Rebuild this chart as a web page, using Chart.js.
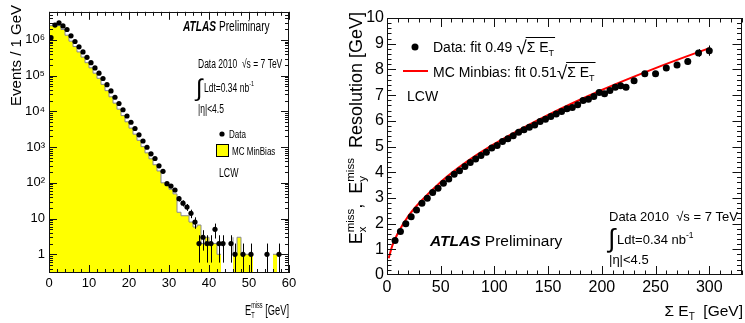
<!DOCTYPE html>
<html>
<head>
<meta charset="utf-8">
<script src="https://cdn.jsdelivr.net/npm/chart.js@4.4.1/dist/chart.umd.min.js"></script>
<style>
  body { margin: 0; background: #fff; }
  #left { position: absolute; left: 0; top: 0; }
  #right { position: absolute; left: 340px; top: 0; }
</style>
</head>
<body>
<canvas id="left" width="300" height="323"></canvas>
<canvas id="right" width="405" height="323"></canvas>
<script>
// ---- left panel: E_T^miss spectrum, 1 GeV bins ----
var binEdges = [0,1,2,3,4,5,6,7,8,9,10,11,12,13,14,15,16,17,18,19,20,21,22,23,24,25,26,27,28,29,
                30,31,32,33,34,35,36,37,38,39,40,41,42,43,44,45,46,47,48,49,50,51,52,53,54,55,56,57,58,59,60];
var mcCounts = [1200000,2500000,2900000,2500000,1950000,1350000,920000,650000,460000,330000,
                230000,165000,117000,84000,57000,38000,25500,17000,11500,7600,
                5100,3400,2300,1550,1030,690,470,320,215,100,
                85,66,49,15,12,12,8,5.8,6.6,2,
                3,2,2,1,0,0,3,1,3,1,
                1,1,0,0,0,0,1,1,0,0];
var dataCenters = [0.5,1.5,2.5,3.5,4.5,5.5,6.5,7.5,8.5,9.5,10.5,11.5,12.5,13.5,14.5,15.5,16.5,17.5,18.5,19.5,
                   20.5,21.5,22.5,23.5,24.5,25.5,26.5,27.5,28.5,29.5,30.5,31.5,32.5,33.5,34.5,35.5,36.5,37.5,38.5,39.5,
                   40.5,41.5,42.5,43.5,45.5,46.5,48.5,50.5,54.5,57.5];
var dataCounts = [1150000,2600000,3000000,2450000,1950000,1300000,900000,640000,460000,325000,
                  230000,164000,117000,83000,55600,37200,24800,16600,11100,7400,
                  4950,3310,2210,1480,990,650,480,300,210,95,
                  81,63,36,27,21,14,8,2,3,2,
                  2,5,2,2,2,1,1,1,1,1];
var leftXTicks = [0,10,20,30,40,50,60];
var leftYTicks = [1,10,100,1000,10000,100000,1000000];
var leftYLabels = ['1','10','10\u00b2','10\u00b3','10\u2074','10\u2075','10\u2076'];

// ---- right panel: resolution vs sum E_T ----
var sumEt = [7.5,12.5,17.5,22.5,27.5,32.5,37.5,42.5,47.5,52.5,57.5,62.5,67.5,72.5,77.5,82.5,87.5,92.5,97.5,102.5,
             107.5,112.5,117.5,122.5,127.5,132.5,137.5,142.5,147.5,152.5,157.5,162.5,167.5,172.5,177.5,182.5,187.5,192.5,197.5,202.5,
             207.5,212.5,217.5,222.5,230,240,250,260,270,280,290,300];
var resolution = [1.34,1.69,1.99,2.27,2.53,2.79,2.99,3.21,3.38,3.57,3.74,3.92,4.06,4.22,4.38,4.51,4.65,4.78,4.94,5.04,
                  5.19,5.30,5.42,5.55,5.65,5.75,5.84,5.97,6.06,6.17,6.26,6.36,6.47,6.52,6.62,6.79,6.84,6.95,7.10,7.05,
                  7.18,7.31,7.36,7.31,7.56,7.83,7.83,8.05,8.17,8.31,8.64,8.73];
var resErr = [0.02,0.02,0.02,0.02,0.02,0.02,0.02,0.02,0.02,0.02,0.02,0.02,0.02,0.02,0.02,0.02,0.02,0.02,0.02,0.02,
              0.02,0.02,0.03,0.03,0.03,0.03,0.03,0.03,0.03,0.03,0.03,0.03,0.03,0.03,0.04,0.04,0.04,0.04,0.04,0.04,
              0.05,0.05,0.05,0.05,0.05,0.06,0.07,0.08,0.1,0.12,0.15,0.2];
var mcFitX = [1.6,5,10,20,30,50,75,100,150,200,250,300];
var mcFitY = [0.65,1.15,1.62,2.3,2.8,3.62,4.43,5.1,6.23,7.2,8.05,8.83];
var rightXTicks = [0,50,100,150,200,250,300];
var rightYTicks = [0,1,2,3,4,5,6,7,8,9,10];

var FONT = '"Liberation Sans", Arial, Helvetica, sans-serif';
Chart.defaults.font.family = FONT;
Chart.defaults.color = '#000';

// parts: [text, size, style, dy, noAdvance]
function partsWidth(ctx, parts) {
  var w = 0;
  parts.forEach(function(p) {
    ctx.font = (p[2] || '') + ' ' + p[1] + 'px ' + FONT;
    if (!p[4]) w += ctx.measureText(p[0]).width;
  });
  return w;
}
function txt(ctx, parts, x, y, sx) {
  ctx.save();
  ctx.translate(x, y);
  ctx.scale(sx || 1, 1);
  ctx.fillStyle = '#000';
  ctx.textAlign = 'left';
  ctx.textBaseline = 'alphabetic';
  var cx = 0;
  parts.forEach(function(p) {
    ctx.font = (p[2] || '') + ' ' + p[1] + 'px ' + FONT;
    ctx.fillText(p[0], cx, p[3] || 0);
    if (!p[4]) cx += ctx.measureText(p[0]).width;
  });
  ctx.restore();
  return cx * (sx || 1);
}

// ROOT style frame with inward ticks on all four sides
function drawFrame(chart, t) {
  var ctx = chart.ctx, a = chart.chartArea, xs = chart.scales.x, ys = chart.scales.y;
  ctx.save();
  ctx.strokeStyle = '#111';
  ctx.lineWidth = 1;
  ctx.strokeRect(Math.round(a.left) + 0.5, Math.round(a.top) + 0.5, Math.round(a.right - a.left) - 1, Math.round(a.bottom - a.top) - 1);
  ctx.beginPath();
  function xt(vals, len) {
    vals.forEach(function(v) {
      var px = Math.round(xs.getPixelForValue(v)) + 0.5;
      ctx.moveTo(px, a.bottom); ctx.lineTo(px, a.bottom - len);
      ctx.moveTo(px, a.top); ctx.lineTo(px, a.top + len);
    });
  }
  function yt(vals, len) {
    vals.forEach(function(v) {
      var py = Math.round(ys.getPixelForValue(v)) + 0.5;
      if (py < a.top || py > a.bottom) return;
      ctx.moveTo(a.left, py); ctx.lineTo(a.left + len, py);
      ctx.moveTo(a.right, py); ctx.lineTo(a.right - len, py);
    });
  }
  xt(t.xMajor, t.majLen); xt(t.xMinor, t.minLen);
  yt(t.yMajor, t.majLen); yt(t.yMinor, t.minLen);
  ctx.stroke();
  ctx.restore();
}

function drawErrors(chart) {
  var ctx = chart.ctx, a = chart.chartArea, ys = chart.scales.y;
  ctx.save();
  ctx.beginPath();
  ctx.rect(a.left, a.top, a.right - a.left, a.bottom - a.top);
  ctx.clip();
  ctx.strokeStyle = '#000';
  ctx.lineWidth = 1;
  ctx.beginPath();
  chart.data.datasets.forEach(function(ds, i) {
    if (!ds.errors) return;
    var meta = chart.getDatasetMeta(i);
    meta.data.forEach(function(pt, j) {
      var v = ds.data[j].y, e = ds.errors[j];
      var lo = v - e;
      var pLo = lo > 0 ? ys.getPixelForValue(lo) : a.bottom;
      var pHi = ys.getPixelForValue(v + e);
      var px = Math.round(pt.x) + 0.5;
      ctx.moveTo(px, pLo); ctx.lineTo(px, pHi);
    });
  });
  ctx.stroke();
  ctx.restore();
}

// ---------------- left chart ----------------
var mcPoints = binEdges.map(function(x, i) {
  return { x: x, y: i < mcCounts.length ? mcCounts[i] : mcCounts[mcCounts.length - 1] };
});
var dataPoints = dataCenters.map(function(x, i) { return { x: x, y: dataCounts[i] }; });
var dataErrs = dataCounts.map(function(n) { return Math.sqrt(n); });

var leftMinor = { x: [], y: [] };
for (var gx = 2; gx < 60; gx += 2) if (gx % 10) leftMinor.x.push(gx);
for (var dec = 0.1; dec < 1e7; dec *= 10) {
  for (var k = 2; k <= 9; k++) leftMinor.y.push(Math.round(k * dec * 10) / 10);
}

var leftDecor = {
  id: 'leftDecor',
  afterDatasetsDraw: function(chart) {
    drawErrors(chart);
  },
  afterDraw: function(chart) {
    var ctx = chart.ctx;
    drawFrame(chart, { xMajor: leftXTicks, xMinor: leftMinor.x, yMajor: leftYTicks, yMinor: leftMinor.y, majLen: 8, minLen: 4 });
    var sx = 0.68;
    txt(ctx, [['ATLAS', 14.5, 'italic bold'], [' Preliminary', 14.5]], 183, 31, 0.7);
    txt(ctx, [['Data 2010  \u221as = 7 TeV', 12.5]], 198, 68, sx);
    txt(ctx, [['\u222b', 24]], 196, 96, 1);
    txt(ctx, [['Ldt=0.34 nb', 12.5], ['-1', 8, '', -6]], 204, 92, sx);
    txt(ctx, [['|\u03b7|<4.5', 12.5]], 198, 113, sx);
    // legend
    ctx.save();
    ctx.fillStyle = '#000';
    ctx.beginPath(); ctx.arc(222, 134, 2.6, 0, Math.PI * 2); ctx.fill();
    ctx.fillStyle = '#ffff00';
    ctx.fillRect(216, 144, 13, 13);
    ctx.strokeStyle = '#000';
    ctx.strokeRect(216.5, 144.5, 12, 12);
    ctx.restore();
    txt(ctx, [['Data', 11.5]], 229, 138, 0.7);
    txt(ctx, [['MC MinBias', 11.5]], 232, 155, 0.7);
    txt(ctx, [['LCW', 12.5]], 219, 177, 0.7);
    // axis titles
    var xt = [['E', 15], ['T', 9, '', 3, true], ['miss', 9, '', -7], [' [GeV]', 15]];
    var w = partsWidth(ctx, xt) * 0.62;
    txt(ctx, xt, 289 - w, 315, 0.62);
    ctx.save();
    ctx.translate(21, 5);
    ctx.rotate(-Math.PI / 2);
    var yt = [['Events / 1 GeV', 15]];
    txt(ctx, yt, -partsWidth(ctx, yt), 0, 1);
    ctx.restore();
  }
};

new Chart(document.getElementById('left'), {
  type: 'scatter',
  data: {
    datasets: [
      { label: 'Data', data: dataPoints, errors: dataErrs, pointRadius: 2.6, pointBackgroundColor: '#000',
        pointBorderWidth: 0, pointHoverRadius: 2.6 },
      { type: 'line', label: 'MC MinBias', data: mcPoints, stepped: 'after', fill: 'start',
        backgroundColor: '#ffff00', borderColor: '#8a8a8a', borderWidth: 1, pointRadius: 0 }
    ]
  },
  options: {
    responsive: false, animation: false, devicePixelRatio: 1,
    layout: { padding: { left: 0, right: 11, top: 6, bottom: 0 } },
    plugins: { legend: { display: false }, tooltip: { enabled: false } },
    scales: {
      x: {
        type: 'linear', min: 0, max: 60,
        afterFit: function(s) { s.height = 50; },
        afterBuildTicks: function(s) { s.ticks = leftXTicks.map(function(v) { return { value: v }; }); },
        grid: { display: false, drawTicks: false }, border: { display: false },
        ticks: { padding: 3, font: { size: 13 }, maxRotation: 0, autoSkip: false }
      },
      y: {
        type: 'logarithmic', min: 0.32, max: 6.1e6,
        afterFit: function(s) { s.width = 49; },
        afterBuildTicks: function(s) { s.ticks = leftYTicks.map(function(v) { return { value: v }; }); },
        grid: { display: false, drawTicks: false }, border: { display: false },
        ticks: { padding: 4, font: { size: 13 }, autoSkip: false,
          callback: function(v) { var i = leftYTicks.indexOf(v); return i >= 0 ? leftYLabels[i] : ''; } }
      }
    }
  },
  plugins: [leftDecor]
});

// ---------------- right chart ----------------
var resPoints = sumEt.map(function(x, i) { return { x: x, y: resolution[i] }; });
var fitPoints = mcFitX.map(function(x, i) { return { x: x, y: mcFitY[i] }; });

var rightMinor = { x: [], y: [] };
for (var rx = 10; rx <= 330; rx += 10) if (rx % 50) rightMinor.x.push(rx);
for (var ry = 1; ry < 50; ry++) if (ry % 5) rightMinor.y.push(ry / 5);

function sqrtSum(ctx, x, y) {
  // draws  sqrt{Sigma E_T}  with an overline, returns end x
  ctx.save();
  ctx.font = '19px ' + FONT;
  ctx.fillStyle = '#000';
  ctx.fillText('\u221a', x, y + 2);
  var w = ctx.measureText('\u221a').width;
  var end = x + w + txt(ctx, [['\u03a3 E', 14], ['T', 9, '', 4]], x + w, y, 1);
  ctx.strokeStyle = '#000';
  ctx.lineWidth = 1;
  ctx.beginPath();
  ctx.moveTo(x + w - 1, y - 14.5); ctx.lineTo(end + 1, y - 14.5);
  ctx.stroke();
  ctx.restore();
  return end;
}

var rightDecor = {
  id: 'rightDecor',
  afterDatasetsDraw: function(chart) {
    drawErrors(chart);
  },
  afterDraw: function(chart) {
    var ctx = chart.ctx;
    drawFrame(chart, { xMajor: rightXTicks, xMinor: rightMinor.x, yMajor: rightYTicks, yMinor: rightMinor.y, majLen: 9, minLen: 4.5 });
    // legend
    ctx.save();
    ctx.fillStyle = '#000';
    ctx.beginPath(); ctx.arc(75, 47, 3.5, 0, Math.PI * 2); ctx.fill();
    ctx.strokeStyle = '#ff0000';
    ctx.lineWidth = 2;
    ctx.beginPath(); ctx.moveTo(63, 71); ctx.lineTo(88, 71); ctx.stroke();
    ctx.restore();
    var x1 = 93 + txt(ctx, [['Data: fit 0.49 ', 14]], 93, 52, 1);
    sqrtSum(ctx, x1, 52);
    var x2 = 93 + txt(ctx, [['MC Minbias: fit 0.51', 14]], 93, 77, 1);
    sqrtSum(ctx, x2, 77);
    txt(ctx, [['LCW', 14]], 67, 101, 1);
    // labels
    txt(ctx, [['ATLAS', 15.5, 'italic bold'], [' Preliminary', 15.5]], 90, 246, 1);
    txt(ctx, [['Data 2010  \u221as = 7 TeV', 13]], 269, 221, 1);
    txt(ctx, [['\u222b', 26]], 268, 247, 1);
    txt(ctx, [['Ldt=0.34 nb', 13], ['-1', 8.5, '', -6]], 277, 244, 1);
    txt(ctx, [['|\u03b7|<4.5', 13]], 269, 264, 1);
    // axis titles
    var xt = [['\u03a3 E', 15.5], ['T', 10, '', 4], ['  [GeV]', 15.5]];
    txt(ctx, xt, 403 - partsWidth(ctx, xt), 316, 1);
    ctx.save();
    ctx.translate(22, 12);
    ctx.rotate(-Math.PI / 2);
    var yt = [['E', 18], ['x', 11.5, '', 4, true], ['miss', 11.5, '', -8], [',  E', 18], ['y', 11.5, '', 4, true],
              ['miss', 11.5, '', -8], ['  Resolution [GeV]', 18]];
    txt(ctx, yt, -partsWidth(ctx, yt), 0, 1);
    ctx.restore();
  }
};

new Chart(document.getElementById('right'), {
  type: 'scatter',
  data: {
    datasets: [
      { label: 'Data', data: resPoints, errors: resErr, pointRadius: 3.5, pointBackgroundColor: '#000',
        pointBorderWidth: 0, pointHoverRadius: 3.5 },
      { type: 'line', label: 'MC Minbias', data: fitPoints, borderColor: '#ff0000', borderWidth: 2,
        pointRadius: 0, cubicInterpolationMode: 'monotone', fill: false }
    ]
  },
  options: {
    responsive: false, animation: false, devicePixelRatio: 1,
    layout: { padding: { left: 0, right: 2, top: 18, bottom: 0 } },
    plugins: { legend: { display: false }, tooltip: { enabled: false } },
    scales: {
      x: {
        type: 'linear', min: 0, max: 330,
        afterFit: function(s) { s.height = 48; },
        afterBuildTicks: function(s) { s.ticks = rightXTicks.map(function(v) { return { value: v }; }); },
        grid: { display: false, drawTicks: false }, border: { display: false },
        ticks: { padding: 3, font: { size: 16 }, maxRotation: 0, autoSkip: false }
      },
      y: {
        type: 'linear', min: 0, max: 10,
        afterFit: function(s) { s.width = 47; },
        afterBuildTicks: function(s) { s.ticks = rightYTicks.map(function(v) { return { value: v }; }); },
        grid: { display: false, drawTicks: false }, border: { display: false },
        ticks: { padding: 3, font: { size: 16 }, autoSkip: false }
      }
    }
  },
  plugins: [rightDecor]
});
</script>
</body>
</html>
